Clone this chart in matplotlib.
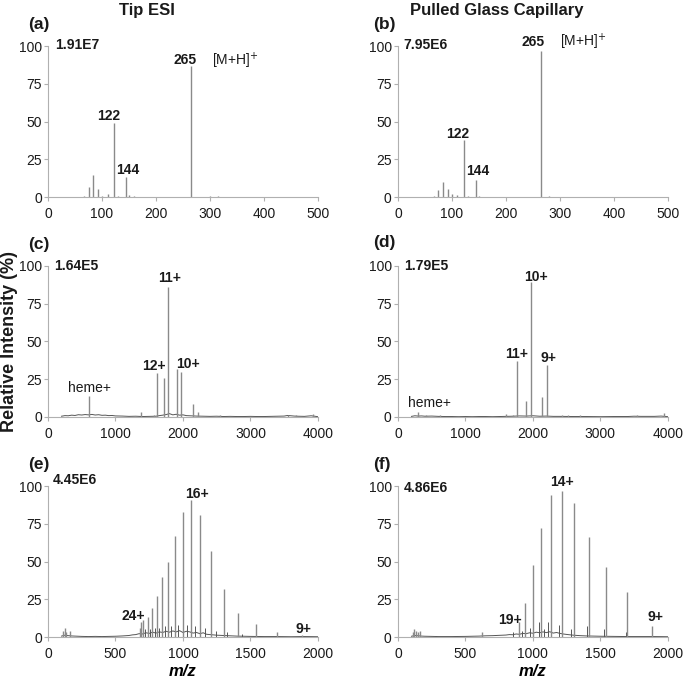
import matplotlib
matplotlib.use("Agg")
import matplotlib.pyplot as plt
import numpy as np

plt.rcParams['font.family'] = ['Liberation Sans', 'DejaVu Sans']

# ---------------- data ----------------
# (a) Tip ESI, small molecule
a_mz  = [67, 75, 84, 93, 100, 111, 122, 130, 144, 150, 160, 265, 300, 315]
a_int = [1.0, 6.4, 14.5, 5.0, 1.0, 2.0, 49, 1.0, 13.5, 1.5, 0.7, 87, 0.8, 0.5]
# (b) Pulled glass capillary, small molecule
b_mz  = [67, 75, 84, 93, 100, 110, 122, 130, 144, 150, 265, 280]
b_int = [1.0, 4.5, 10, 5.0, 2.0, 1.5, 37.5, 1.0, 11, 1.0, 97, 0.5]

# (c) Tip ESI, protein
c_mz  = [612, 1385, 1570, 1620, 1719, 1773, 1906, 1975, 2143, 2216, 2550, 3560, 3680, 3930]
c_int = [14, 3, 1.5, 29, 25.6, 86, 32, 30, 8.5, 3, 1, 1.5, 1, 2]
c_base_mz  = [200, 250, 300, 350, 400, 450, 500, 550, 600, 650, 700, 750, 800, 850, 900,
              950, 1000, 1100, 1200, 1300, 1400, 1500, 1600, 1650, 1700, 1750, 1800, 1850,
              1900, 1950, 2000, 2050, 2100, 2200, 2300, 2400, 2500, 2600, 2700, 2800, 2900,
              3000, 3100, 3200, 3300, 3400, 3500, 3550, 3600, 3650, 3700, 3800, 3900, 3950,
              4000]
c_base_int = [0.5, 0.9, 0.8, 1.2, 1.0, 1.5, 1.3, 1.6, 1.4, 1.7, 1.3, 1.5, 1.1, 1.2, 0.9,
              1.0, 0.7, 0.6, 0.4, 0.5, 0.3, 0.4, 0.5, 0.9, 1.2, 1.6, 2.2, 1.4,
              1.8, 1.2, 1.4, 0.9, 0.8, 0.6, 0.5, 0.4, 0.5, 0.3, 0.4, 0.3, 0.3,
              0.4, 0.3, 0.3, 0.4, 0.5, 0.6, 1.0, 0.8, 0.6, 0.5, 0.4, 0.8, 0.5,
              0.2]

# (d) Pulled glass capillary, protein
d_mz  = [300, 420, 620, 1600, 1700, 1768, 1896, 1966, 2133, 2207, 2430, 2520, 2700, 3540, 3940]
d_int = [3, 1.5, 1, 2, 1, 37, 10.5, 89.5, 13, 34.7, 1, 1, 1, 1, 2.5]
d_base_mz  = [200, 250, 300, 350, 400, 500, 600, 700, 800, 900, 1000, 1100, 1200, 1300, 1400,
              1500, 1600, 1700, 1800, 1900, 2000, 2100, 2200, 2300, 2400, 2600, 2800, 3000,
              3200, 3400, 3500, 3600, 3800, 3900, 4000]
d_base_int = [0.4, 0.8, 0.6, 0.7, 0.5, 0.6, 0.4, 0.3, 0.3, 0.2, 0.3, 0.2, 0.3, 0.3, 0.2,
              0.3, 0.4, 0.5, 0.7, 0.6, 0.8, 0.5, 0.6, 0.4, 0.4, 0.3, 0.3, 0.2,
              0.3, 0.3, 0.5, 0.4, 0.4, 0.6, 0.2]

# (e) Tip ESI, myoglobin charge-state envelope
e_mz  = [112, 125, 135, 160, 680, 692, 707, 738, 771, 806, 846, 891, 941, 1001, 1061,
         1126, 1211, 1301, 1411, 1538, 1695, 1880]
e_int = [4, 6, 3, 4, 6, 10, 11, 13, 19, 27, 40, 50, 67, 83, 91,
         81, 57, 31.6, 16, 8.6, 3.5, 1.5]
e_sat_mz  = [720, 755, 790, 825, 868, 915, 965, 1030, 1090, 1160, 1245, 1330, 1440]
e_sat_int = [5, 5, 6, 6, 7, 7, 8, 8, 7, 6, 4, 3, 2]
e_base_mz  = [100, 125, 150, 175, 200, 250, 300, 350, 400, 450, 500, 550, 600, 625, 650,
              675, 700, 725, 750, 775, 800, 825, 850, 875, 900, 925, 950, 975, 1000, 1025,
              1050, 1075, 1100, 1125, 1150, 1175, 1200, 1225, 1250, 1275, 1300, 1350, 1400,
              1450, 1500, 1600, 1700, 1800, 1900, 2000]
e_base_int = [0.6, 1.2, 0.9, 0.7, 0.6, 0.4, 0.3, 0.4, 0.3, 0.4, 0.5, 0.7, 1.0, 1.4, 1.6,
              2.2, 2.0, 2.8, 2.4, 3.2, 2.6, 3.4, 3.0, 3.8, 3.2, 4.0, 3.4, 4.2, 3.0, 3.8,
              3.4, 2.6, 3.0, 2.2, 2.8, 1.8, 1.6, 1.4, 1.2, 1.1, 1.0, 0.8, 0.6,
              0.5, 0.4, 0.3, 0.3, 0.2, 0.3, 0.2]

# (f) Pulled glass capillary, myoglobin charge-state envelope
f_mz  = [110, 120, 130, 145, 160, 620, 894, 944, 999, 1061, 1133, 1212, 1303, 1413,
         1539, 1695, 1883]
f_int = [3, 5, 4, 3, 4, 3.5, 10, 22.5, 48, 72.5, 94, 97, 88.7, 66,
         46.5, 30, 7.5]
f_sat_mz  = [850, 920, 980, 1045, 1085, 1115, 1190, 1285, 1400, 1525, 1690]
f_sat_int = [3, 4, 6, 10, 5, 10, 8, 5, 7, 5, 3]
f_base_mz  = [100, 125, 150, 175, 200, 250, 300, 400, 500, 600, 650, 700, 750, 800, 825,
              850, 875, 900, 925, 950, 975, 1000, 1025, 1050, 1075, 1100, 1125, 1150, 1175,
              1200, 1225, 1250, 1300, 1350, 1400, 1500, 1600, 1700, 1800, 1900, 2000]
f_base_int = [0.5, 1.0, 0.8, 0.6, 0.5, 0.4, 0.3, 0.3, 0.4, 0.6, 0.8, 0.9, 1.1, 1.3, 1.6,
              1.5, 2.0, 1.8, 2.4, 2.2, 2.8, 2.5, 3.2, 2.8, 3.4, 2.9, 3.5, 2.6, 3.0,
              2.4, 2.0, 1.7, 1.2, 0.9, 0.7, 0.5, 0.4, 0.3, 0.3, 0.3, 0.2]

yticks = [0, 25, 50, 75, 100]

# ---------------- figure ----------------
fig = plt.figure(figsize=(6.85, 6.81), dpi=100)

lefts = [0.0701, 0.581]
bottoms = [0.7107, 0.3877, 0.0646]
w, h = 0.394, 0.2217

spine_c = '#b0b0b0'
peak_c = '#8a8a8a'
base_c = '#555555'

def make_ax(col, row, xmax, xstep):
    ax = fig.add_axes([lefts[col], bottoms[row], w, h])
    ax.set_xlim(0, xmax)
    ax.set_ylim(0, 100)
    for s in ['top', 'right']:
        ax.spines[s].set_visible(False)
    for s in ['left', 'bottom']:
        ax.spines[s].set_color(spine_c)
        ax.spines[s].set_linewidth(0.8)
    ax.set_yticks(yticks)
    ax.set_xticks(np.arange(0, xmax + 1, xstep))
    ax.tick_params(axis='both', colors=spine_c, length=3, width=0.8,
                   labelsize=10, labelcolor='#1a1a1a')
    ax.tick_params(axis='y', pad=1.5)
    ax.tick_params(axis='x', pad=4)
    return ax

def bold(ax, x, y, s, size=10, ha='center'):
    ax.text(x, y, s, fontsize=size, fontweight='bold', ha=ha, va='center',
            color='#1a1a1a', clip_on=False)

def plain(ax, x, y, s, size=10, ha='center'):
    ax.text(x, y, s, fontsize=size, ha=ha, va='center', color='#1a1a1a', clip_on=False)

# (a)
ax = make_ax(0, 0, 500, 100)
ax.vlines(a_mz, 0, a_int, color=peak_c, lw=1.0)
bold(ax, 13, 100.5, '1.91E7', ha='left')
bold(ax, 254, 90.5, '265')
plain(ax, 304, 90.5, '[M+H]$^{+}$', ha='left')
bold(ax, 113, 53.5, '122')
bold(ax, 148, 18, '144')

# (b)
ax = make_ax(1, 0, 500, 100)
ax.vlines(b_mz, 0, b_int, color=peak_c, lw=1.0)
bold(ax, 10, 100.5, '7.95E6', ha='left')
bold(ax, 250, 103, '265')
plain(ax, 300, 103, '[M+H]$^{+}$', ha='left')
bold(ax, 110, 42, '122')
bold(ax, 148, 17.5, '144')

# (c)
ax = make_ax(0, 1, 4000, 1000)
ax.plot(c_base_mz, c_base_int, color=base_c, lw=0.7)
ax.vlines(c_mz, 0, c_int, color=peak_c, lw=1.0)
bold(ax, 93, 100, '1.64E5', ha='left')
bold(ax, 1797, 92, '11+')
bold(ax, 1570, 34, '12+')
bold(ax, 2079, 35.3, '10+')
plain(ax, 612, 19.3, 'heme+')

# (d)
ax = make_ax(1, 1, 4000, 1000)
ax.plot(d_base_mz, d_base_int, color=base_c, lw=0.7)
ax.vlines(d_mz, 0, d_int, color=peak_c, lw=1.0)
bold(ax, 93, 100, '1.79E5', ha='left')
bold(ax, 2040, 92.8, '10+')
bold(ax, 1758, 41.6, '11+')
bold(ax, 2227, 39, '9+')
plain(ax, 464, 9.4, 'heme+')

# (e)
ax = make_ax(0, 2, 2000, 500)
ax.plot(e_base_mz, e_base_int, color=base_c, lw=0.7)
ax.vlines(e_sat_mz, 0, e_sat_int, color=base_c, lw=0.7)
ax.vlines(e_mz, 0, e_int, color=peak_c, lw=1.0)
bold(ax, 37, 104, '4.45E6', ha='left')
bold(ax, 1101, 94.5, '16+')
bold(ax, 631, 14, '24+')
bold(ax, 1893, 5.3, '9+')
ax.set_xlabel('m/z', fontsize=12, fontweight='bold', fontstyle='italic', labelpad=2)

# (f)
ax = make_ax(1, 2, 2000, 500)
ax.plot(f_base_mz, f_base_int, color=base_c, lw=0.7)
ax.vlines(f_sat_mz, 0, f_sat_int, color=base_c, lw=0.7)
ax.vlines(f_mz, 0, f_int, color=peak_c, lw=1.0)
bold(ax, 45, 99, '4.86E6', ha='left')
bold(ax, 1219, 102.5, '14+')
bold(ax, 830, 11.3, '19+')
bold(ax, 1911, 13.5, '9+')
ax.set_xlabel('m/z', fontsize=12, fontweight='bold', fontstyle='italic', labelpad=2)

# panel letters and column titles
def ftext(xp, yp, s, size, **kw):
    fig.text(xp / 685, 1 - yp / 681, s, fontsize=size, fontweight='bold',
             color='#1a1a1a', **kw)

ftext(147, 10, 'Tip ESI', 12, ha='center', va='center')
ftext(497, 10, 'Pulled Glass Capillary', 12, ha='center', va='center')
for letter, xp, yp in [('(a)', 28, 25), ('(b)', 373, 25), ('(c)', 28, 245),
                       ('(d)', 373, 243), ('(e)', 28, 465), ('(f)', 373, 465)]:
    ftext(xp, yp, letter, 12.5, ha='left', va='center')

fig.text(10 / 685, 1 - 342 / 681, 'Relative Intensity (%)', fontsize=13,
         fontweight='bold', rotation=90, ha='center', va='center', color='#1a1a1a')

fig.savefig('out.png', dpi=100)
